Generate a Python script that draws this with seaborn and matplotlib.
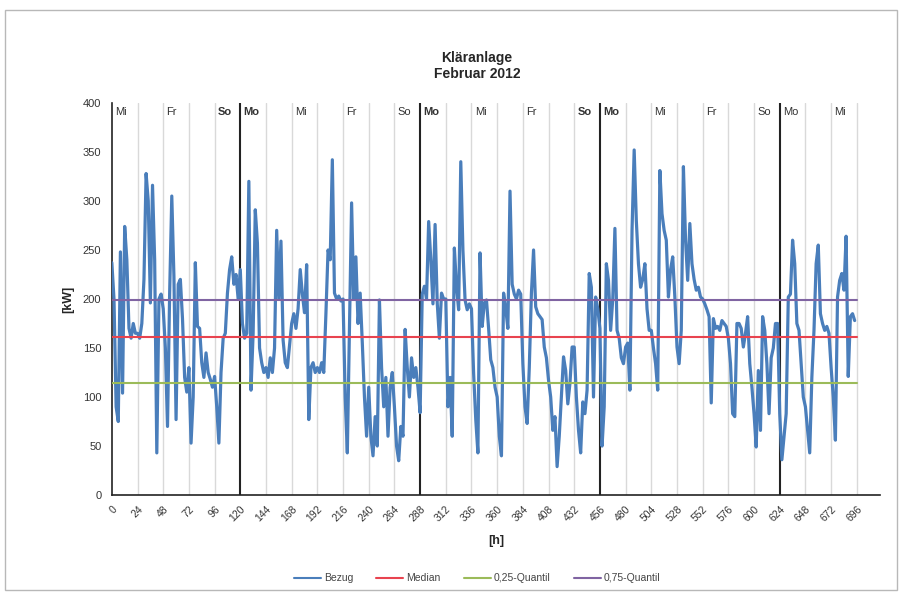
import numpy as np
import pandas as pd
import matplotlib
matplotlib.use("Agg")
import matplotlib.pyplot as plt
from matplotlib.patches import Rectangle
import seaborn as sns

sns.set_style("white")
plt.rcParams["font.family"] = ["Liberation Sans", "DejaVu Sans"]

# Bezug in kW, one row per day (values every 2 hours), Feb 2012 starts on a Wednesday
bezug_days = [
    [237, 200, 90, 75, 248, 104, 274, 240, 170, 160, 175, 165],   # Mi
    [165, 160, 175, 220, 328, 300, 196, 316, 240, 43, 200, 205],  # Do
    [190, 150, 70, 206, 305, 223, 77, 215, 220, 180, 120, 105],   # Fr
    [130, 53, 100, 237, 172, 170, 135, 120, 145, 125, 118, 110],  # Sa
    [121, 90, 53, 125, 160, 165, 206, 230, 243, 215, 225, 200],   # So
    [230, 175, 160, 165, 320, 107, 165, 291, 257, 150, 135, 125], # Mo
    [130, 120, 140, 125, 150, 270, 200, 259, 158, 135, 130, 152], # Di
    [175, 185, 170, 190, 230, 205, 186, 235, 77, 130, 135, 125],  # Mi
    [130, 125, 135, 125, 185, 250, 240, 342, 206, 200, 203, 198], # Do
    [200, 100, 43, 170, 298, 200, 243, 175, 206, 155, 100, 60],   # Fr
    [110, 60, 40, 80, 50, 199, 130, 90, 120, 60, 110, 125],       # Sa
    [90, 50, 35, 70, 60, 169, 130, 100, 140, 120, 130, 110],      # So
    [84, 205, 213, 200, 279, 240, 195, 276, 196, 160, 206, 200],  # Mo
    [200, 90, 120, 60, 252, 213, 189, 340, 250, 199, 189, 195],   # Di
    [190, 124, 77, 43, 247, 172, 196, 199, 170, 138, 130, 110],   # Mi
    [100, 60, 40, 206, 190, 170, 310, 215, 205, 200, 209, 205],   # Do
    [134, 90, 73, 130, 206, 250, 192, 185, 182, 179, 151, 140],   # Fr
    [117, 100, 66, 80, 29, 60, 100, 141, 127, 93, 114, 151],      # Sa
    [151, 100, 66, 43, 95, 83, 107, 226, 212, 100, 202, 190],     # So
    [170, 50, 90, 236, 219, 168, 200, 272, 168, 160, 140, 134],   # Mo
    [151, 155, 107, 270, 352, 280, 236, 212, 220, 236, 190, 168], # Di
    [168, 150, 134, 107, 331, 287, 270, 260, 202, 230, 243, 202], # Mi
    [151, 134, 168, 335, 260, 219, 277, 236, 220, 209, 212, 202], # Do
    [200, 195, 189, 182, 94, 180, 170, 172, 168, 178, 175, 172],  # Fr
    [160, 134, 83, 80, 175, 175, 170, 151, 165, 182, 134, 110],   # Sa
    [83, 49, 127, 66, 182, 168, 134, 83, 140, 150, 175, 175],     # So
    [83, 36, 60, 83, 202, 205, 260, 236, 175, 168, 134, 100],     # Mo
    [90, 66, 43, 120, 168, 236, 255, 185, 175, 168, 172, 165],    # Di
    [130, 100, 56, 202, 219, 226, 209, 264, 121, 182, 185, 178],  # Mi
]
bezug = np.concatenate(bezug_days)
hours = np.arange(len(bezug)) * 2

median = 161
q25 = 114
q75 = 199

day_labels = ["Mi", "", "Fr", "", "So", "Mo", "", "Mi", "", "Fr", "", "So", "Mo", "",
              "Mi", "", "Fr", "", "So", "Mo", "", "Mi", "", "Fr", "", "So", "Mo", "", "Mi"]
bold_days = [4, 5, 12, 18, 19]
monday_days = [5, 12, 19, 26]
n_days = len(day_labels)

fig = plt.figure(figsize=(9.02, 5.95), dpi=100)
ax = fig.add_axes([0.124, 0.168, 0.852, 0.659])

# day separators
for d in range(1, n_days + 1):
    if d in monday_days:
        ax.axvline(d * 24, color="#222222", lw=1.5, zorder=1)
    else:
        ax.axvline(d * 24, color="#d9d9d9", lw=1.0, zorder=1)

sns.lineplot(x=hours, y=bezug, ax=ax, color="#4a7ebb", lw=2.3, label="Bezug", zorder=3)
x_end = [0, n_days * 24]
sns.lineplot(x=x_end, y=[median, median], ax=ax, color="#e8434f", lw=1.5, label="Median", zorder=4)
sns.lineplot(x=x_end, y=[q25, q25], ax=ax, color="#9bbb59", lw=1.5, label="0,25-Quantil", zorder=4)
sns.lineplot(x=x_end, y=[q75, q75], ax=ax, color="#8064a2", lw=1.5, label="0,75-Quantil", zorder=4)

for d, lab in enumerate(day_labels):
    if lab:
        ax.text(d * 24 + 3, 391, lab, fontsize=8, va="center", ha="left",
                fontweight="bold" if d in bold_days else "normal", color="#333333", zorder=5)

ax.set_xlim(0, 718)
ax.set_ylim(0, 400)
ax.set_xticks(np.arange(0, n_days * 24 + 1, 24))
ax.set_yticks(np.arange(0, 401, 50))
ax.tick_params(axis="x", direction="inout", length=6, labelsize=7.5, color="#222222", labelcolor="#333333")
ax.tick_params(axis="y", direction="out", length=4, labelsize=8, color="#222222", labelcolor="#333333")
plt.setp(ax.get_xticklabels(), rotation=45, ha="right", rotation_mode="anchor")
for s in ["top", "right"]:
    ax.spines[s].set_visible(False)
for s in ["left", "bottom"]:
    ax.spines[s].set_color("#222222")
    ax.spines[s].set_linewidth(1.2)

ax.set_xlabel("[h]", fontsize=9, fontweight="bold", labelpad=8)
ax.set_ylabel("[kW]", fontsize=9, fontweight="bold", labelpad=6)

fig.text(0.529, 0.889, "Kläranlage\nFebruar 2012", ha="center", va="center",
         fontsize=10, fontweight="bold", linespacing=1.2)

handles, labels = ax.get_legend_handles_labels()
ax.get_legend().remove()
leg = fig.legend(handles, labels, loc="center", bbox_to_anchor=(0.529, 0.028), ncol=4,
                 frameon=False, fontsize=7.5, handlelength=2.6, handletextpad=0.3,
                 columnspacing=2.2, labelcolor="#444444")
for line in leg.get_lines():
    line.set_linewidth(1.5)

fig.patches.append(Rectangle((0.006, 0.008), 0.988, 0.975, transform=fig.transFigure,
                             fill=False, edgecolor="#b8b8b8", lw=1.0))

fig.savefig("out.png", dpi=100)
